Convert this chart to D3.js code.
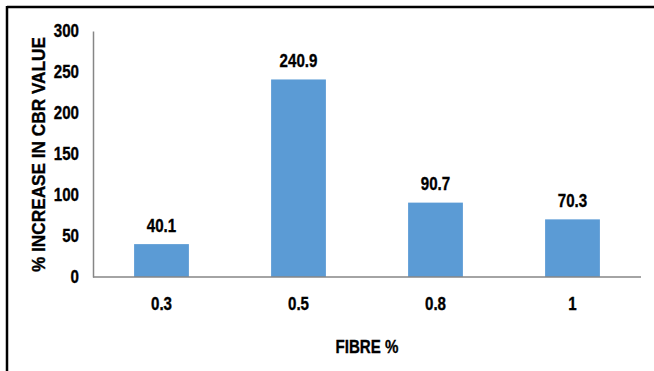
<!DOCTYPE html>
<html>
<head>
<meta charset="utf-8">
<script src="https://cdn.jsdelivr.net/npm/d3@7"></script>
<style>
  html, body { margin: 0; padding: 0; background: #fff; }
  svg text { font-family: "Liberation Sans", Arial, sans-serif; font-weight: bold; fill: #000; stroke: #000; stroke-width: 0.35px; }
</style>
</head>
<body>
<svg id="chart" width="654" height="371"></svg>
<script>
// Fibre content and the resulting increase in CBR value
const categories = ["0.3", "0.5", "0.8", "1"];
const values = [40.1, 240.9, 90.7, 70.3];
const yTicks = [0, 50, 100, 150, 200, 250, 300];

const svg = d3.select("#chart");
const W = 654, H = 371;
const margin = { left: 93, right: 13, top: 31, bottom: 94 };
const FS = 18;      // label font size
const SX = 0.84;    // horizontal squeeze for the condensed look

// narrow bold label helper
function label(g, x, y, str, anchor) {
  return g.append("text")
    .attr("transform", `translate(${x},${y}) scale(${SX},1)`)
    .attr("text-anchor", anchor || "middle")
    .attr("dy", "0.36em")
    .attr("font-size", FS)
    .text(str);
}

// frame lines along the top and left
svg.append("line").attr("x1", 7).attr("x2", W).attr("y1", 7).attr("y2", 7)
  .attr("stroke", "#000").attr("stroke-width", 2.5);
svg.append("line").attr("x1", 7).attr("x2", 7).attr("y1", 6).attr("y2", H)
  .attr("stroke", "#000").attr("stroke-width", 2.5);

const x = d3.scaleBand().domain(categories)
  .range([margin.left, W - margin.right])
  .paddingInner(0.6).paddingOuter(0.3);
const y = d3.scaleLinear().domain([0, 300]).range([H - margin.bottom, margin.top]);

// bars
svg.append("g").selectAll("rect").data(values).join("rect")
  .attr("x", (d, i) => x(categories[i]))
  .attr("width", x.bandwidth())
  .attr("y", d => y(d))
  .attr("height", d => y(0) - y(d))
  .attr("fill", "#5B9BD5");

// value labels
const vl = svg.append("g");
values.forEach((d, i) => {
  label(vl, x(categories[i]) + x.bandwidth() / 2, y(d) - 19, d.toFixed(1));
});

// y axis
const yAxis = svg.append("g").attr("transform", `translate(${margin.left},0)`)
  .call(d3.axisLeft(y).tickValues(yTicks).tickSize(0).tickFormat(""));
yAxis.select(".domain").attr("stroke", "#868686").attr("stroke-width", 1.5);
const yl = svg.append("g");
yTicks.forEach(t => label(yl, 79, y(t), String(t), "end"));

// x axis
const xAxis = svg.append("g").attr("transform", `translate(0,${y(0)})`)
  .call(d3.axisBottom(x).tickSize(0).tickFormat(""));
xAxis.select(".domain").attr("stroke", "#868686").attr("stroke-width", 1.5)
  .attr("d", `M${margin.left},0H${W - margin.right}`);
const xl = svg.append("g");
categories.forEach(c => label(xl, x(c) + x.bandwidth() / 2, 304, c));

// axis titles
label(svg, (margin.left + W - margin.right) / 2, 347, "FIBRE %");
svg.append("text")
  .attr("transform", `translate(39,272) rotate(-90)`)
  .attr("text-anchor", "start")
  .attr("dy", "0.36em")
  .attr("font-size", FS)
  .attr("textLength", 235)
  .attr("lengthAdjust", "spacingAndGlyphs")
  .text("% INCREASE IN CBR VALUE");
</script>
</body>
</html>
